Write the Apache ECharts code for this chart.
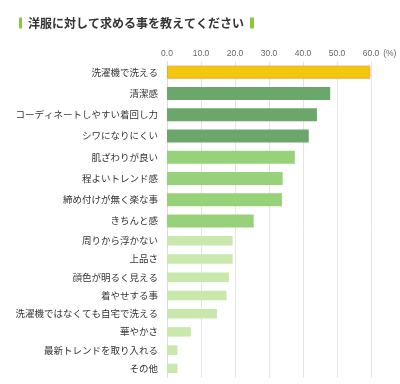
<!DOCTYPE html>
<html>
<head>
<meta charset="utf-8">
<script src="https://cdn.jsdelivr.net/npm/echarts@6/dist/echarts.min.js"></script>
<style>
  html, body { margin: 0; padding: 0; background: #fff; }
  #main { width: 400px; height: 384px; }
</style>
</head>
<body>
<div id="main"></div>
<script>
const titleText = '洋服に対して求める事を教えてください'

const categories = [
  '洗濯機で洗える', '清潔感', 'コーディネートしやすい着回し力', 'シワになりにくい',
  '肌ざわりが良い', '程よいトレンド感', '締め付けが無く楽な事', 'きちんと感',
  '周りから浮かない', '上品さ', '顔色が明るく見える', '着やせする事',
  '洗濯機ではなくても自宅で洗える', '華やかさ', '最新トレンドを取り入れる', 'その他'
]
const values = [59.8, 48.0, 44.1, 41.7, 37.6, 34.0, 33.8, 25.5, 19.3, 19.3, 18.2, 17.5, 14.7, 7.0, 3.1, 3.1]
const xTicks = [0, 10, 20, 30, 40, 50, 60]

// top 8 rows are drawn larger than the bottom 8
const splitAt = 8

const font = '"Noto Sans CJK JP", "Noto Sans", sans-serif'

function barColor(i) {
  if (i === 0) return '#f2c80c'
  if (i <= 3) return '#6ba66b'
  if (i <= 7) return '#97d27a'
  return '#c9e8ac'
}

const chart = echarts.init(document.getElementById('main'))

const xBase = {
  type: 'value',
  min: xTicks[0],
  max: xTicks[xTicks.length - 1],
  interval: xTicks[1] - xTicks[0],
  axisLine: { show: false },
  axisTick: { show: false },
  splitLine: { lineStyle: { color: '#e4e4e4', width: 1 } }
}

const yBase = {
  type: 'category',
  inverse: true,
  axisTick: { show: false },
  axisLine: { lineStyle: { color: '#dcdcdc' } },
  axisLabel: { color: '#333', fontSize: 9.5, margin: 9, fontFamily: font }
}

const option = {
  animation: false,
  title: {
    left: 14,
    top: 12,
    text: '{bar|}{t|' + titleText + '}{bar2|}',
    textStyle: {
      rich: {
        bar: { width: 3, height: 11, backgroundColor: '#8cc63f' },
        bar2: { width: 4, height: 11, backgroundColor: '#8cc63f' },
        t: { fontSize: 12, color: '#333', fontFamily: font, padding: [0, 6, 0, 6] }
      }
    }
  },
  grid: [
    { left: 167, right: 29, top: 61.5, height: 170 },
    { left: 167, right: 29, top: 231.5, height: 146 }
  ],
  xAxis: [
    Object.assign({}, xBase, {
      gridIndex: 0,
      position: 'top',
      name: '(%)',
      nameLocation: 'end',
      nameGap: 4,
      nameTextStyle: { color: '#666', fontSize: 8.5, verticalAlign: 'bottom', padding: [0, 0, 3, 0] },
      axisLabel: {
        color: '#666',
        fontSize: 8.5,
        margin: 3,
        formatter: (v) => v.toFixed(1)
      }
    }),
    Object.assign({}, xBase, {
      gridIndex: 1,
      axisLabel: { show: false }
    })
  ],
  yAxis: [
    Object.assign({}, yBase, { gridIndex: 0, data: categories.slice(0, splitAt) }),
    Object.assign({}, yBase, { gridIndex: 1, data: categories.slice(splitAt) })
  ],
  series: [
    {
      type: 'bar',
      xAxisIndex: 0,
      yAxisIndex: 0,
      barWidth: 13,
      // first bar gets an orange outline
      data: values.slice(0, splitAt).map((v, i) =>
        i === 0 ? { value: v, itemStyle: { borderColor: '#f0a23a', borderWidth: 1 } } : v
      ),
      itemStyle: { color: (p) => barColor(p.dataIndex) },
      emphasis: { disabled: true }
    },
    {
      type: 'bar',
      xAxisIndex: 1,
      yAxisIndex: 1,
      barWidth: 9.5,
      data: values.slice(splitAt),
      itemStyle: { color: (p) => barColor(p.dataIndex + splitAt) },
      emphasis: { disabled: true }
    }
  ]
}

chart.setOption(option)
</script>
</body>
</html>
